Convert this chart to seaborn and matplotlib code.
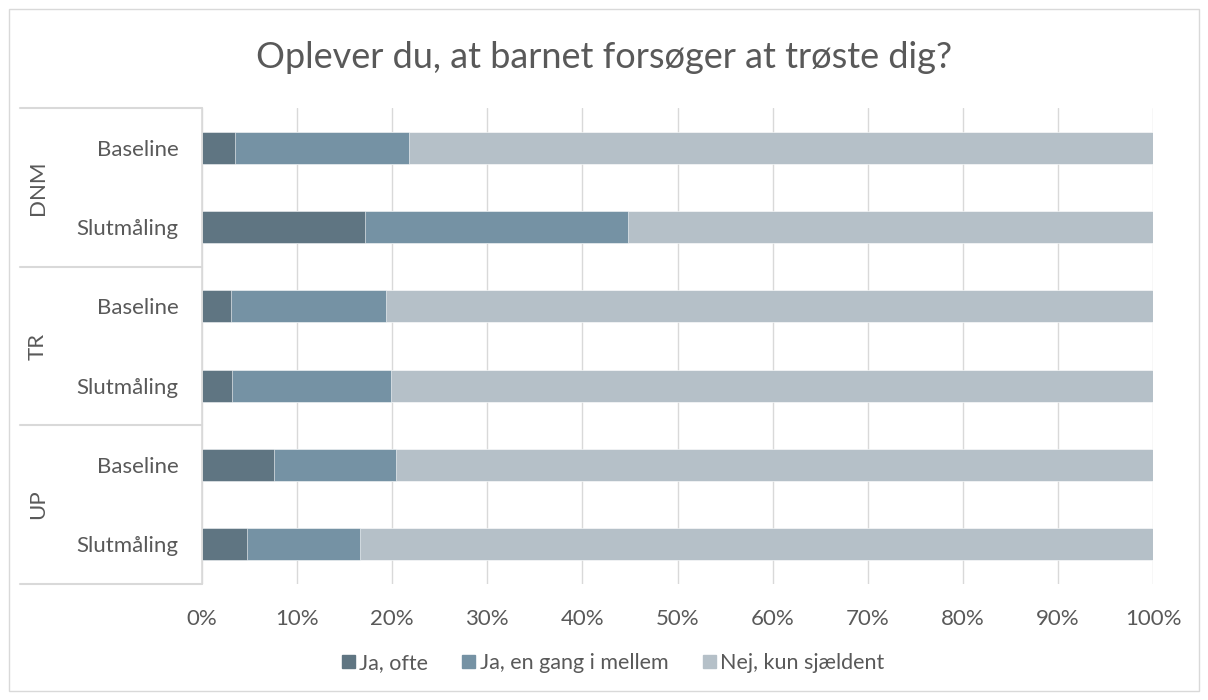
import matplotlib
matplotlib.use("Agg")
import matplotlib.pyplot as plt
import matplotlib.patches as mpatches
import seaborn as sns
import pandas as pd
import numpy as np

# Data (percent per response)
groups = ["DNM", "DNM", "TR", "TR", "UP", "UP"]
phases = ["Baseline", "Slutmåling", "Baseline", "Slutmåling", "Baseline", "Slutmåling"]
ja_ofte = [3.5, 17.1, 3.1, 3.2, 7.6, 4.7]
ja_mellem = [18.3, 27.7, 16.2, 16.7, 12.8, 11.9]
nej = [78.2, 55.2, 80.7, 80.1, 79.6, 83.4]
series_names = ["Ja, ofte", "Ja, en gang i mellem", "Nej, kun sjældent"]
colors = ["#5F7582", "#7592A4", "#B5C0C8"]

df = pd.DataFrame({"group": groups, "phase": phases,
                   "ofte": ja_ofte, "mellem": ja_mellem, "nej": nej})
df["row"] = df["group"] + "|" + df["phase"]
df["c1"] = df["ofte"]
df["c2"] = df["ofte"] + df["mellem"]
df["c3"] = df["c2"] + df["nej"]

sns.set_style("white")
plt.rcParams["font.family"] = ["Lato", "DejaVu Sans"]

fig = plt.figure(figsize=(12.08, 7), dpi=100)
ax = fig.add_axes([202 / 1208, 1 - 584 / 700, 951 / 1208, 476 / 700])

# stacked bars: draw cumulative totals from the back
for col, c in zip(["c3", "c2", "c1"], colors[::-1]):
    sns.barplot(data=df, x=col, y="row", color=c, width=0.4, ax=ax,
                edgecolor="white", linewidth=0.4, saturation=1)

ax.set_xlim(0, 100)
ax.set_ylim(5.5, -0.5)
ax.set_xticks(np.arange(0, 101, 10))
ax.set_xticklabels([f"{v}%" for v in range(0, 101, 10)])
ax.set_yticks(range(len(df)))
ax.set_yticklabels(df["phase"])
ax.set_xlabel("")
ax.set_ylabel("")
ax.tick_params(axis="both", length=0, labelsize=16, colors="#595959")
ax.tick_params(axis="y", pad=17)
ax.tick_params(axis="x", pad=18)
ax.grid(axis="x", color="#D9D9D9", linewidth=1)
ax.set_axisbelow(True)
for s in ["top", "right", "bottom"]:
    ax.spines[s].set_visible(False)
ax.spines["left"].set_color("#D9D9D9")
ax.spines["left"].set_linewidth(1.2)

# group labels and separators
left = (20 - 202) / 951
trans = ax.get_yaxis_transform()
for y in [-0.5, 1.5, 3.5, 5.5]:
    ax.plot([left, 0], [y, y], transform=trans, color="#D9D9D9",
            linewidth=1.5, clip_on=False)
for i, g in enumerate(["DNM", "TR", "UP"]):
    ax.text(-0.1724, 2 * i + 0.5, g, transform=trans, rotation=90,
            ha="center", va="center", fontsize=16, color="#595959")

fig.suptitle("Oplever du, at barnet forsøger at trøste dig?", y=1 - 58 / 700,
             va="center", fontsize=26, color="#595959")

handles = [mpatches.Patch(color=c, label=n) for c, n in zip(colors, series_names)]
fig.legend(handles=handles, loc="center", bbox_to_anchor=(613 / 1208, 1 - 663 / 700),
           ncol=3, frameon=False, fontsize=15.5, handlelength=0.6, handleheight=0.6,
           handletextpad=0.2, columnspacing=1.6, labelcolor="#595959")

fig.patches.append(mpatches.Rectangle((9 / 1208, 9 / 700), 1190 / 1208, 682 / 700,
                                      transform=fig.transFigure, fill=False,
                                      edgecolor="#D9D9D9", linewidth=1))

fig.savefig("out.png", dpi=100)
